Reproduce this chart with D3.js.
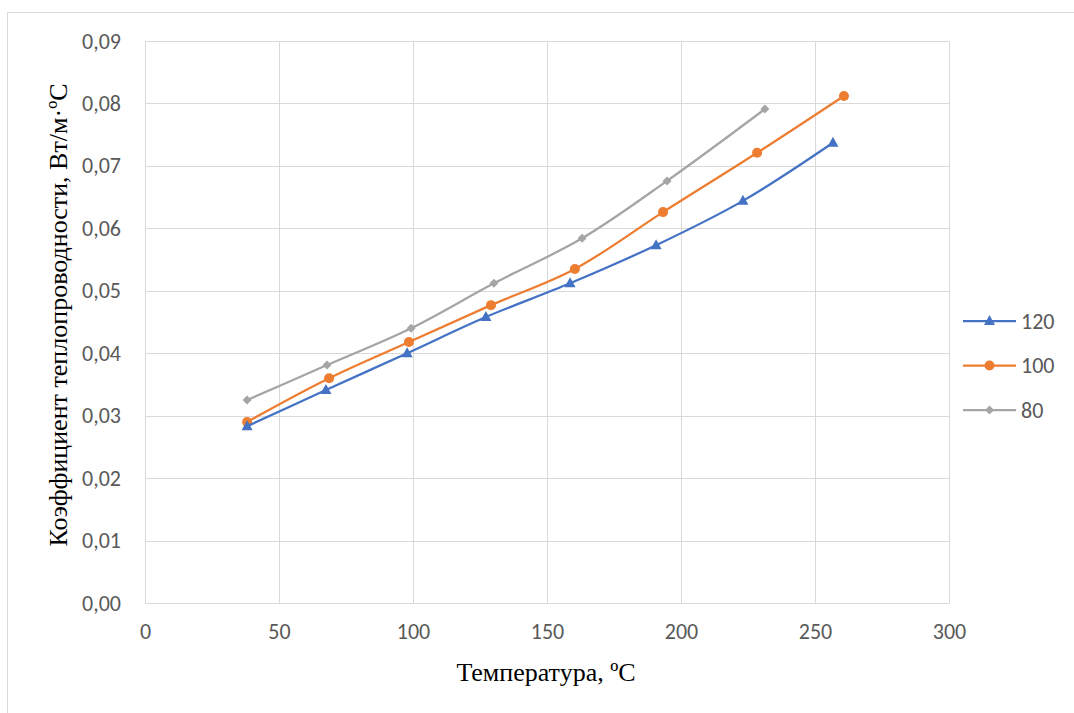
<!DOCTYPE html>
<html><head><meta charset="utf-8">
<script src="https://cdn.jsdelivr.net/npm/d3@7"></script>
<style>body{margin:0;background:#fff}</style>
</head><body>
<svg id="c" width="1074" height="713"></svg>
<script>
const seriesNames = ["120", "100", "80"];
const colors = ["#4472C4", "#ED7D31", "#A5A5A5"];
const x120 = [38.1, 67.5, 97.8, 127.2, 158.6, 190.7, 223.1, 256.7];
const y120 = [0.0283, 0.0341, 0.0400, 0.0458, 0.0512, 0.0573, 0.0644, 0.0737];
const x100 = [38.1, 68.7, 98.5, 129.1, 160.4, 193.3, 228.4, 260.8];
const y100 = [0.0290, 0.0360, 0.0418, 0.0477, 0.0535, 0.0626, 0.0721, 0.0812];
const x80 = [38.1, 67.9, 99.3, 130.2, 163.1, 194.8, 231.3];
const y80 = [0.0325, 0.0381, 0.0440, 0.0512, 0.0584, 0.0676, 0.0791];
const xTicks = [0, 50, 100, 150, 200, 250, 300];
const yTicks = [0, 0.01, 0.02, 0.03, 0.04, 0.05, 0.06, 0.07, 0.08, 0.09];

const series = [
  {name: seriesNames[0], xs: x120, ys: y120, marker: "triangle"},
  {name: seriesNames[1], xs: x100, ys: y100, marker: "circle"},
  {name: seriesNames[2], xs: x80, ys: y80, marker: "diamond"}
];

const svg = d3.select("#c");
const L = 145, T = 41, R = 949, B = 603;
const x = d3.scaleLinear().domain([0, 300]).range([L, R]);
const y = d3.scaleLinear().domain([0, 0.09]).range([B, T]);
const sans = "Calibri, Carlito, 'Liberation Sans', Arial, sans-serif";
const serif = "'Liberation Serif', 'Times New Roman', serif";

// outer border
svg.append("path").attr("d", "M7.5,713 L7.5,12.5 L1074,12.5").attr("fill", "none").attr("stroke", "#d9d9d9").attr("stroke-width", 1);

// gridlines
svg.append("g").selectAll("line").data(yTicks).join("line")
  .attr("x1", L).attr("x2", R).attr("y1", d => Math.round(y(d)) + 0.5).attr("y2", d => Math.round(y(d)) + 0.5)
  .attr("stroke", "#d9d9d9").attr("stroke-width", 1);
svg.append("g").selectAll("line").data(xTicks).join("line")
  .attr("y1", T).attr("y2", B).attr("x1", d => Math.round(x(d)) + 0.5).attr("x2", d => Math.round(x(d)) + 0.5)
  .attr("stroke", "#d9d9d9").attr("stroke-width", 1);

// axes
const yAxis = d3.axisLeft(y).tickValues(yTicks).tickSize(0).tickPadding(24)
  .tickFormat(d => d3.format(".2f")(d).replace(".", ","));
const gy = svg.append("g").attr("transform", `translate(${L},0)`).call(yAxis);
gy.select(".domain").remove();
gy.selectAll("text").attr("font-family", sans).attr("font-size", 22).attr("fill", "#595959");

const xAxis = d3.axisBottom(x).tickValues(xTicks).tickSize(0).tickPadding(20);
const gx = svg.append("g").attr("transform", `translate(0,${B})`).call(xAxis);
gx.select(".domain").attr("stroke", "#d9d9d9").attr("stroke-width", 1);
gx.selectAll("text").attr("font-family", sans).attr("font-size", 22).attr("fill", "#595959");

// axis titles
svg.append("text").attr("x", 546).attr("y", 681).attr("text-anchor", "middle")
  .attr("font-family", serif).attr("font-size", 26).attr("fill", "#000")
  .text("Температура, ºС");
svg.append("text").attr("transform", `translate(67,${315}) rotate(-90)`).attr("text-anchor", "middle")
  .attr("font-family", serif).attr("font-size", 26).attr("fill", "#000")
  .text("Коэффициент теплопроводности, Вт/м·ºС");

const line = d3.line().x(d => x(d[0])).y(d => y(d[1])).curve(d3.curveCatmullRom.alpha(0.5));

function marker(g, type, color, cx, cy) {
  if (type === "circle") {
    g.append("circle").attr("cx", cx).attr("cy", cy).attr("r", 5).attr("fill", color);
  } else if (type === "triangle") {
    g.append("path").attr("d", `M${cx},${cy - 6} L${cx + 5.5},${cy + 4} L${cx - 5.5},${cy + 4} Z`).attr("fill", color);
  } else {
    g.append("path").attr("d", `M${cx},${cy - 4.5} L${cx + 4.5},${cy} L${cx},${cy + 4.5} L${cx - 4.5},${cy} Z`).attr("fill", color);
  }
}

series.slice().reverse().forEach(s => {
  const i = series.indexOf(s);
  const pts = s.xs.map((v, k) => [v, s.ys[k]]);
  const g = svg.append("g");
  g.append("path").attr("d", line(pts)).attr("fill", "none").attr("stroke", colors[i]).attr("stroke-width", 2.25)
    .attr("stroke-linejoin", "round").attr("stroke-linecap", "round");
  pts.forEach(p => marker(g, s.marker, colors[i], x(p[0]), y(p[1])));
});

// legend
const legY = [321, 365.5, 410];
series.forEach((s, i) => {
  const g = svg.append("g");
  g.append("line").attr("x1", 963).attr("x2", 1016).attr("y1", legY[i]).attr("y2", legY[i])
    .attr("stroke", colors[i]).attr("stroke-width", 2.25);
  marker(g, s.marker, colors[i], 989.5, legY[i]);
  g.append("text").attr("x", 1021).attr("y", legY[i] + 7.5).attr("font-family", sans)
    .attr("font-size", 22).attr("fill", "#595959").text(s.name);
});
</script>
</body></html>
